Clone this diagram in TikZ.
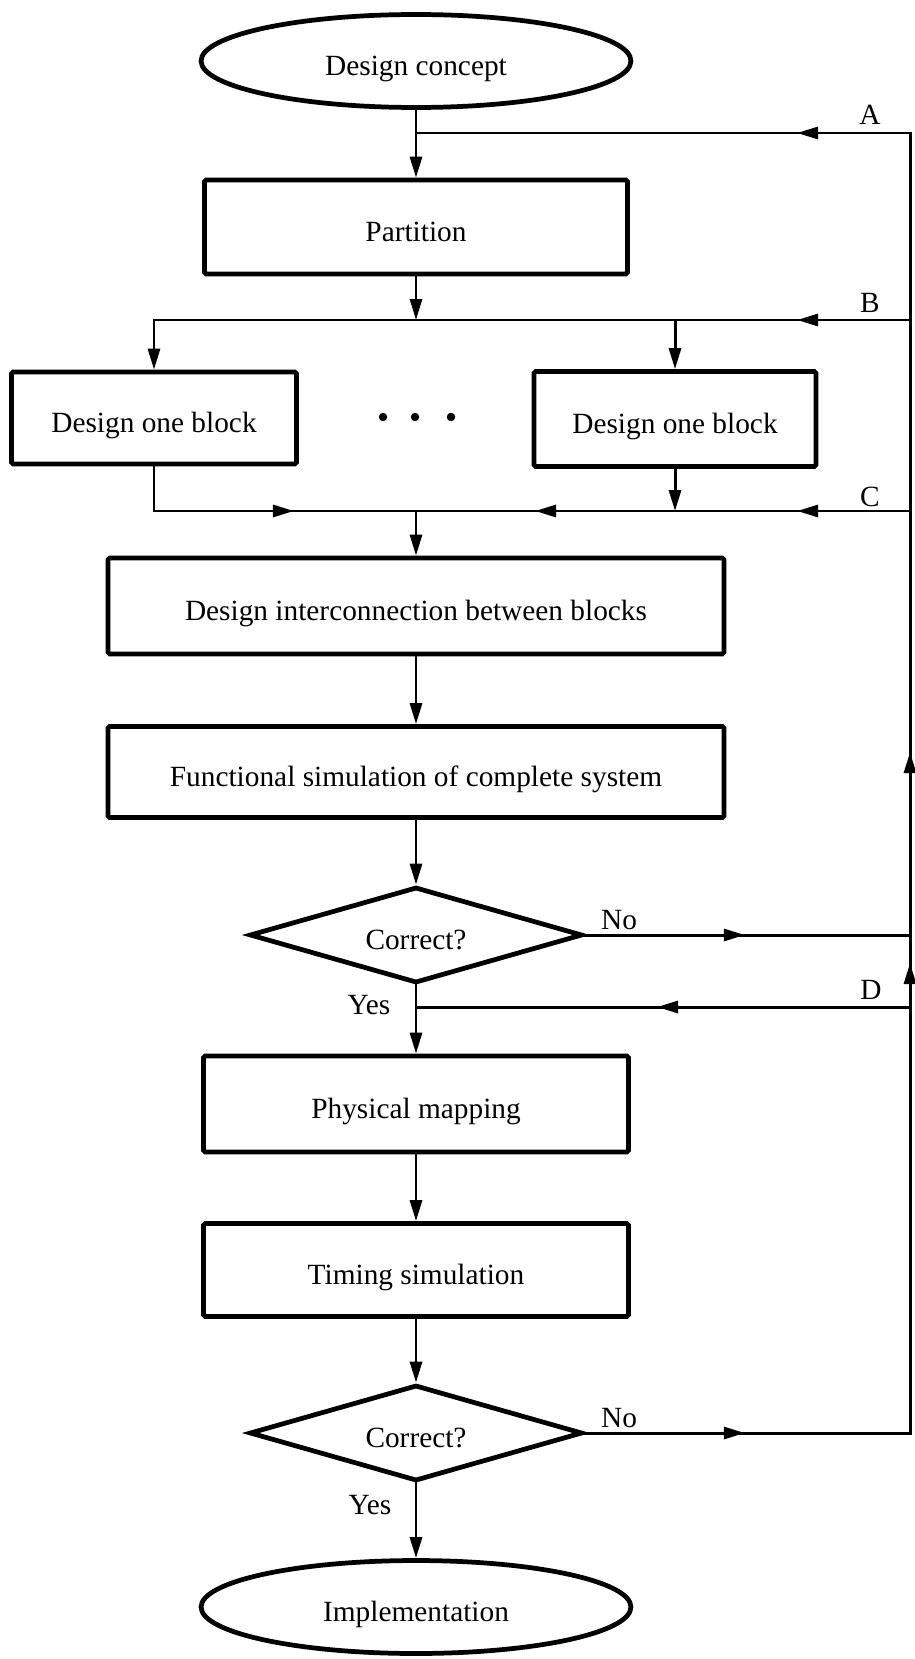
\documentclass[tikz,border=0pt]{standalone}
\usepackage{fontspec}
\setmainfont{Liberation Serif}
\usetikzlibrary{shapes.geometric,arrows.meta,decorations.markings}
\begin{document}
\begin{tikzpicture}[
			x=0.02cm, y=-0.02cm,
			font=\fontsize{16.7}{20}\selectfont,
			>={Triangle[length=0.42cm,width=0.24cm]},
			conn/.style={line width=1.7pt, line cap=rect},
			box/.style={draw, line width=2.7pt, rounded corners=1pt, inner sep=0pt, text height=16.5pt, text depth=0pt, minimum width=#1, minimum height=1.88cm},
			term/.style={draw, ellipse, line width=2.7pt, inner sep=0pt, text height=16.5pt, text depth=0pt, minimum width=8.6cm, minimum height=1.86cm},
			decision/.style={draw, diamond, aspect=3.5, line width=2.7pt, inner sep=0pt, text height=16.5pt, text depth=0pt, minimum width=6.66cm, minimum height=1.92cm},
			midarr/.style={postaction={decorate}, decoration={markings, mark=at position #1 with {\arrow{>}}}},
			midarrtwo/.style 2 args={postaction={decorate}, decoration={markings, mark=at position #1 with {\arrow{>}}, mark=at position #2 with {\arrow{>}}}}
		]
		\useasboundingbox (0,0) rectangle (915,1659);
		\node[term] (concept) at (416,61) {Design concept};
		\node[box=8.46cm] (partition) at (416,227) {Partition};
		\node[box=5.7cm, minimum height=1.84cm] (blockl) at (154,418) {Design one block};
		\node[box=5.64cm, minimum height=1.9cm] (blockr) at (675,419) {Design one block};
		\node[box=12.32cm, minimum height=1.92cm] (inter) at (416,606) {Design interconnection between blocks};
		\node[box=12.32cm, minimum height=1.82cm] (func) at (416,772) {Functional simulation of complete system};
		\node[decision] (check1) at (416,935) {Correct?};
		\node[box=8.5cm, minimum height=1.92cm] (phys) at (416,1104) {Physical mapping};
		\node[box=8.5cm, minimum height=1.86cm] (timing) at (416,1270) {Timing simulation};
		\node[decision] (check2) at (416,1433) {Correct?};
		\node[term] (impl) at (416,1607) {Implementation};
		\foreach \dx in {383,415,451}
			\fill (\dx,417) circle[radius=0.085cm];
		\coordinate (railtop) at (910,133);
		\coordinate (railbot) at (910,1433);
		\coordinate (ja) at (416,133);
		\coordinate (railb) at (910,320);
		\coordinate (jb) at (416,320);
		\coordinate (jbl) at (154,320);
		\coordinate (jbr) at (675,320);
		\coordinate (railc) at (910,511);
		\coordinate (jc) at (416,511);
		\coordinate (jcl) at (154,511);
		\coordinate (jcr) at (675,511);
		\coordinate (railn) at (910,935);
		\coordinate (raild) at (910,1007);
		\coordinate (jd) at (416,1007);
		\draw[conn,->] (concept.south) -- (partition.north);
		\draw[conn,midarr=2.26cm] (railtop) -- (ja);
		\draw[conn,->] (partition.south) -- (jb);
		\draw[conn,midarr=2.26cm] (railb) -- (jbl);
		\draw[conn,->] (jbl) -- (blockl.north);
		\draw[conn,->] (jbr) -- (blockr.north);
		\draw[conn] (blockl.south) -- (jcl);
		\draw[conn,midarr=2.8cm] (jcl) -- (jc);
		\draw[conn,->] (blockr.south) -- (jcr);
		\draw[conn,midarrtwo={2.26cm}{7.5cm}] (railc) -- (jc);
		\draw[conn,->] (jc) -- (inter.north);
		\draw[conn,->] (inter.south) -- (func.north);
		\draw[conn,->] (func.south) -- (check1.north);
		\draw[conn,midarr=3.2cm] (check1.east) -- (railn);
		\draw[conn,->] (check1.south) -- (phys.north);
		\draw[conn,midarr=5.06cm] (raild) -- (jd);
		\draw[conn,->] (phys.south) -- (timing.north);
		\draw[conn,->] (timing.south) -- (check2.north);
		\draw[conn,midarr=3.2cm] (check2.east) -- (railbot);
		\draw[conn,midarrtwo={9.4cm}{13.62cm}] (railbot) -- (railtop);
		\draw[conn,->] (check2.south) -- (impl.north);
		\node (la) at (870,115) {A};
		\node (lb) at (870,303) {B};
		\node (lc) at (870,497) {C};
		\node (ld) at (871,990) {D};
		\node (no1) at (619,920) {No};
		\node (no2) at (619,1418) {No};
		\node (yes1) at (369,1005) {Yes};
		\node (yes2) at (370,1505) {Yes};
	\end{tikzpicture}
\end{document}
